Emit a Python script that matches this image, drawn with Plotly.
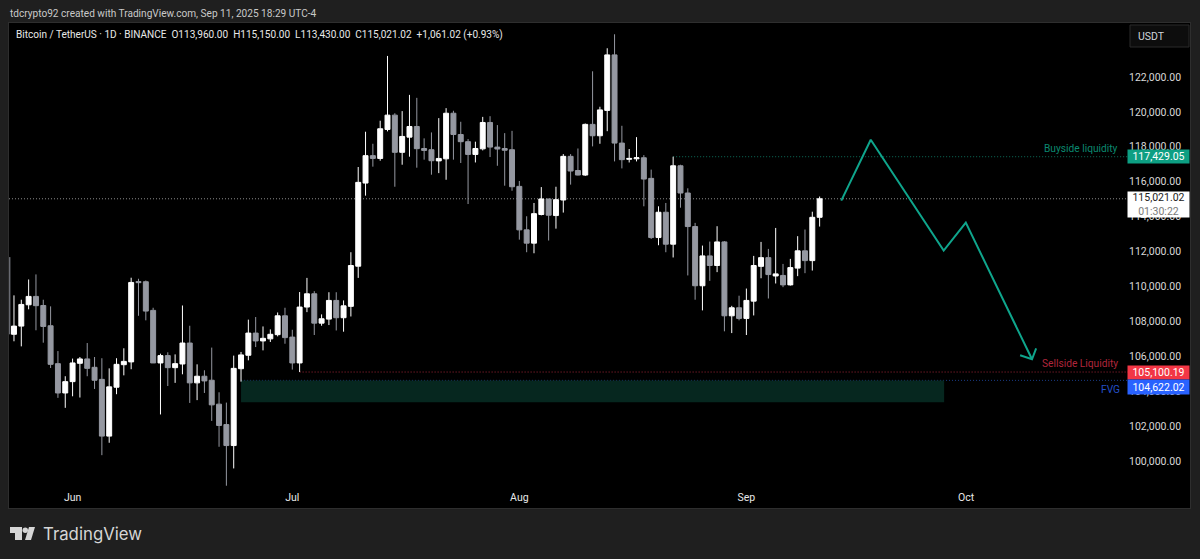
import pandas as pd
import plotly.graph_objects as go

first_day = "2025-05-24"
opens = [107260,107730,108950,109430,108910,107750,105580,103900,104550,105600,105850,105370,104680,101430,104230,105520,105680,110280,110270,108630,105620,106040,105350,105560,106760,104480,104860,104630,103260,102090,100890,105290,106060,107330,106880,107000,107240,108320,107100,105620,
 108820,109580,107900,108130,109200,108210,108860,111160,115920,117490,117330,118990,119810,117680,118550,119160,117900,117830,117190,117310,119920,118700,118290,117560,117880,119390,117980,117900,117830,115730,113240,112480,114120,115010,114060,114950,117450,116640,
 116380,119280,118630,120080,123260,118210,117280,117310,117370,116190,112800,114250,112420,116910,115350,113430,110040,111750,111200,112550,108320,108780,108170,109160,111150,111650,110600,110630,110090,111050,112040,111480,113960]
highs = [109490,109240,110400,110690,109240,108860,106300,104860,105870,105960,106760,105960,105890,105310,105890,106460,110500,110440,110340,108780,106150,106230,106110,108910,107750,105540,105200,106500,103940,103350,106040,106250,108100,108250,107710,107540,108510,108780,107520,109680,
 110490,109730,108400,109670,109670,109200,111960,116840,118860,118170,119490,123200,119920,120040,120970,120800,118480,118820,119640,120210,120060,119430,118440,118290,119710,119750,119240,118780,118910,116040,114020,114780,115690,115010,115710,117580,117580,117900,
 119330,122320,120290,123640,124440,119200,117870,118550,117520,116690,114590,114780,117430,116970,115620,113640,112340,112570,113450,112600,108890,109470,109880,111750,112550,112150,113350,111290,111580,112880,113260,114280,115150]
lows = [106860,106570,108690,107490,106780,105330,103620,103050,103710,103640,104860,104130,100340,101050,103830,104910,105260,108320,108060,105620,102670,104300,104480,104970,103330,103490,103900,102300,100820,98590,99580,104550,105770,106530,106340,106820,107140,106720,105240,105100,
 108530,107220,107750,107790,107480,107410,108280,110490,115200,116860,117200,118880,115710,116970,117430,116800,117260,116400,116490,116110,117260,117070,114720,117100,117790,117410,116910,115770,115480,112680,111960,111900,114070,112630,113310,114230,115830,116360,
 116330,118020,118170,118890,117160,116760,117100,117160,114590,112720,112360,111960,111660,114510,110630,109240,108630,110320,110820,107430,107330,108060,107220,108340,110470,109310,110170,109960,110050,110590,110760,110910,113430]
closes = [107730,108970,109430,108900,107710,105540,103900,104550,105620,105850,105310,104630,101430,104250,105540,105710,110230,110220,108590,105620,106040,105350,105580,106760,104480,104860,104590,103220,102040,100890,105310,106080,107330,106880,107030,107260,108320,107070,105620,108820,
 109580,107900,108150,109200,108210,108890,111200,115960,117490,117330,119030,119810,117680,118590,119160,117890,117790,117200,117330,119920,118700,118290,117560,117900,119390,117980,117870,117800,115710,113240,112480,114170,115010,114080,114970,117450,116610,116380,
 119280,118630,120110,123260,118210,117260,117330,117370,116150,112800,114250,112420,116910,115350,113430,110040,111750,111200,112550,108320,108780,108170,109200,111200,111650,110680,110720,110090,111080,112040,111480,113960,115021.02]

# the partly hidden candle on the left edge of the pane
edge_day = ["2025-05-23 10:20", "2025-05-23 10:20"]
edge_wick = [111680, 107260]

month_ticks = ["2025-06-01", "2025-07-01", "2025-08-01", "2025-09-01", "2025-10-01"]
month_labels = ["Jun", "Jul", "Aug", "Sep", "Oct"]
price_ticks = [100000, 102000, 104000, 106000, 108000, 110000, 112000, 114000, 116000, 118000, 120000, 122000]

last_price = 115021.02
buyside = 117429.05
sellside = 105100.19
fvg_top = 104622.02
fvg_bottom = 103370
x_range = ["2025-05-23 07:40", "2025-10-31 13:40"]
scale_left = "2025-10-23 19:00"

path_days = ["2025-09-13 23:00", "2025-09-17 23:30", "2025-09-27 22:30", "2025-09-30 23:00", "2025-10-10 00:00"]
path_prices = [114915, 118400, 112057, 113657, 105829]
head_days = ["2025-10-08 09:00", "2025-10-10 00:00", "2025-10-10 13:30"]
head_prices = [106058, 105829, 106457]

TEAL = "#0fa58c"
GREY = "#9598a1"
FONT = "Roboto"
PW, PH, L, R, T, B = 1200, 559, 9, 1190, 23, 508
def px(x): return (x - L) / (R - L)
def py(y): return (B - y) / (B - T)

fig = go.Figure()
fig.add_trace(go.Candlestick(
    x=pd.date_range(first_day, periods=len(opens)),
    open=opens, high=highs, low=lows, close=closes,
    increasing=dict(line=dict(color="#ffffff", width=1), fillcolor="#ffffff"),
    decreasing=dict(line=dict(color=GREY, width=1), fillcolor=GREY),
    whiskerwidth=0, showlegend=False, hoverinfo="skip"))
fig.add_trace(go.Scatter(x=edge_day, y=edge_wick, mode="lines",
                         line=dict(color=GREY, width=1), showlegend=False, hoverinfo="skip"))
fig.add_trace(go.Scatter(x=path_days, y=path_prices, mode="lines",
                         line=dict(color=TEAL, width=2), showlegend=False, hoverinfo="skip"))
fig.add_trace(go.Scatter(x=head_days, y=head_prices, mode="lines",
                         line=dict(color=TEAL, width=2), showlegend=False, hoverinfo="skip"))

def hline(y, x0, x1, color):
    fig.add_shape(type="line", xref="x", yref="y", x0=x0, x1=x1, y0=y, y1=y, layer="below",
                  line=dict(color=color, width=1, dash="1px,2px"))

hline(last_price, x_range[0], scale_left, "#8a8a8a")
hline(buyside, "2025-08-22", scale_left, "#0c6f5c")
hline(sellside, "2025-07-02", scale_left, "#a02436")
hline(fvg_top, "2025-06-24", scale_left, "#1a3c86")
fig.add_shape(type="rect", xref="x", yref="y", x0="2025-06-24", x1="2025-09-28", y0=fvg_bottom, y1=fvg_top,
              layer="below", line_width=0, fillcolor="#06271f")

# USDT button
fig.add_shape(type="rect", xref="paper", yref="paper", x0=px(1130), x1=px(1189), y0=py(47), y1=py(25),
              line=dict(color="#2a2a2a", width=1), fillcolor="#0d0d0d")

# TradingView mark
def pth(pts): return "M" + " L".join(f"{px(a):.5f},{py(b):.5f}" for a, b in pts) + " Z"
logo_col = "#d6d6d6"
fig.add_shape(type="path", xref="paper", yref="paper", line_width=0, fillcolor=logo_col,
              path=pth([(10, 527), (22, 527), (22, 540), (15, 540), (15, 533), (10, 533)]))
fig.add_shape(type="circle", xref="paper", yref="paper", line_width=0, fillcolor=logo_col,
              x0=px(22.5), x1=px(28), y0=py(533), y1=py(527.5))
fig.add_shape(type="path", xref="paper", yref="paper", line_width=0, fillcolor=logo_col,
              path=pth([(29, 527), (35, 527), (31, 540), (25, 540)]))

def note(text, x, y, size=11, color="#d1d4dc", anchor="left", font=FONT, **kw):
    fig.add_annotation(text=text, xref="paper", yref="paper", x=px(x), y=py(y), xanchor=anchor, yanchor="middle",
                       showarrow=False, font=dict(size=size, color=color, family=font), **kw)

note("tdcrypto92 created with TradingView.com, Sep 11, 2025 18:29 UTC-4", 8, 13, 10.1, "#c9c9c9")
note("Bitcoin / TetherUS · 1D · BINANCE  O113,960.00  H115,150.00  L113,430.00  C115,021.02  +1,061.02 (+0.93%)", 14, 35, 10.05, "#e8e8e8")
note("USDT", 1136, 36, 10.5, "#d1d4dc")
note("TradingView", 41, 534, 16.8, "#d6d6d6", font="Inter")
note("Buyside liquidity", 1119.5, 148, 10.2, "#0b8a70", "right")
note("Sellside Liquidity", 1119.5, 363, 10.2, "#b0263c", "right")
note("FVG", 1122, 389, 10.2, "#2450c8", "right")

def tag(text, y0, y1, bg, fg):
    fig.add_annotation(text=text, xref="paper", yref="paper", x=px(1127), y=py((y0 + y1) / 2), xanchor="left",
                       yanchor="middle", width=61, height=y1 - y0, showarrow=False, bgcolor=bg, borderpad=0,
                       align="center", font=dict(size=10.5, color=fg, family=FONT))

tag("117,429.05", 150, 163, "#0d9f83", "#ffffff")
tag("115,021.02<br><span style='color:#7a7a7a'>01:30:22</span>", 192, 217, "#ffffff", "#222222")
tag("105,100.19", 366, 379, "#f23645", "#ffffff")
tag("104,622.02", 380, 394, "#2962ff", "#ffffff")

fig.update_layout(
    width=PW, height=PH, autosize=False,
    margin=dict(l=L, r=PW - R, t=T, b=PH - B),
    paper_bgcolor="#1f1f1f", plot_bgcolor="#000000",
    showlegend=False, dragmode=False, boxgap=0.25, boxgroupgap=0.1,
    xaxis=dict(type="date", range=x_range, rangeslider=dict(visible=False), showgrid=False, zeroline=False,
               tickmode="array", tickvals=month_ticks, ticktext=month_labels, ticks="",
               ticklabelposition="inside", tickfont=dict(size=10.5, color="#e8e8e8", family=FONT),
               showline=True, linecolor="#2e2e2e", mirror=True, ticklabelstandoff=4),
    yaxis=dict(side="right", range=[97314, 125086], showgrid=False, zeroline=False,
               tickmode="array", tickvals=price_ticks, tickformat=",.2f", ticks="",
               ticklabelposition="inside", tickfont=dict(size=10.5, color="#d8d8d8", family=FONT),
               showline=True, linecolor="#2e2e2e", mirror=True, ticklabelstandoff=8),
)

fig.write_html("out.html", config=dict(displayModeBar=False, staticPlot=True),
               post_script="document.body.style.margin='0';document.body.style.background='#1f1f1f';")
